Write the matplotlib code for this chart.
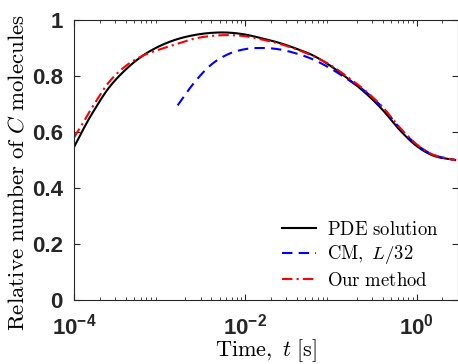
import numpy as np
import matplotlib.pyplot as plt

plt.rcParams['mathtext.fontset'] = 'custom'
plt.rcParams['mathtext.rm'] = 'Liberation Sans:bold'
plt.rcParams['mathtext.bf'] = 'Liberation Sans:bold'
plt.rcParams['mathtext.it'] = 'Liberation Sans:bold'

# log10 of time [s] and relative number of C molecules
log_t_pde = [-4.0, -3.9, -3.8, -3.6, -3.4, -3.2, -3.0, -2.8, -2.6, -2.4, -2.2, -2.0,
             -1.8, -1.6, -1.4, -1.2, -1.0, -0.8, -0.6, -0.4, -0.2, 0.0, 0.2, 0.45]
pde = [0.546, 0.605, 0.66, 0.755, 0.822, 0.872, 0.907, 0.931, 0.946, 0.954, 0.955, 0.948,
       0.934, 0.918, 0.897, 0.872, 0.835, 0.79, 0.74, 0.68, 0.608, 0.55, 0.515, 0.5]

log_t_cm = [-2.79, -2.6, -2.4, -2.2, -2.0, -1.8, -1.6, -1.4, -1.2, -1.0, -0.8, -0.6,
            -0.4, -0.2, 0.0, 0.2, 0.45]
cm = [0.695, 0.775, 0.84, 0.878, 0.896, 0.9, 0.895, 0.88, 0.858, 0.826, 0.787, 0.745,
      0.688, 0.615, 0.555, 0.518, 0.5]

log_t_our = [-4.0, -3.9, -3.8, -3.6, -3.4, -3.2, -3.0, -2.8, -2.6, -2.4, -2.2, -2.0,
             -1.8, -1.6, -1.4, -1.2, -1.0, -0.8, -0.6, -0.4, -0.2, 0.0, 0.2, 0.45]
our = [0.58, 0.63, 0.682, 0.775, 0.835, 0.872, 0.895, 0.914, 0.933, 0.943, 0.946, 0.942,
       0.93, 0.915, 0.895, 0.87, 0.838, 0.795, 0.748, 0.69, 0.617, 0.556, 0.518, 0.5]


def smooth(log_t, vals, n=300):
    # cubic Hermite curve through the points, evaluated on a fine log grid
    x = np.array(log_t)
    y = np.array(vals)
    xs = np.linspace(x[0], x[-1], n)
    out = []
    for i in range(len(x) - 1):
        x0, x1 = x[i], x[i + 1]
        y0, y1 = y[i], y[i + 1]
        m0 = (y[i + 1] - y[i - 1]) / (x[i + 1] - x[i - 1]) if i > 0 else (y1 - y0) / (x1 - x0)
        m1 = (y[i + 2] - y[i]) / (x[i + 2] - x[i]) if i < len(x) - 2 else (y1 - y0) / (x1 - x0)
        seg = xs[(xs >= x0) & ((xs < x1) if i < len(x) - 2 else (xs <= x1))]
        h = x1 - x0
        s = (seg - x0) / h
        h00 = 2 * s**3 - 3 * s**2 + 1
        h10 = s**3 - 2 * s**2 + s
        h01 = -2 * s**3 + 3 * s**2
        h11 = s**3 - s**2
        out.append(h00 * y0 + h10 * h * m0 + h01 * y1 + h11 * h * m1)
    return 10 ** xs, np.concatenate(out)


fig = plt.figure(figsize=(4.58, 3.64), dpi=100)
ax = fig.add_axes([74 / 458, 64 / 364, 383.5 / 458, 280 / 364])

t, v = smooth(log_t_pde, pde)
ax.plot(t, v, color='black', lw=1.5, label='PDE solution')
t, v = smooth(log_t_cm, cm)
ax.plot(t, v, color='blue', lw=1.5, ls=(0, (5, 3)), label='CM')
t, v = smooth(log_t_our, our)
ax.plot(t, v, color='red', lw=1.5, ls=(0, (5, 2, 1, 2)), label='Our method')

ax.set_xscale('log')
ax.set_xlim(1e-4, 3)
ax.set_ylim(0, 1)
ax.set_xticks([1e-4, 1e-2, 1e0])
ax.set_xticklabels([r'$10^{-4}$', r'$10^{-2}$', r'$10^{0}$'])
ax.set_yticks([0, 0.2, 0.4, 0.6, 0.8, 1])
ax.set_yticklabels(['0', '0.2', '0.4', '0.6', '0.8', '1'])
ax.tick_params(which='both', direction='in', top=True, right=True,
               colors='#262626', labelsize=16)
ax.tick_params(which='major', length=4, width=0.8)
ax.tick_params(which='minor', length=2.5, width=0.6)
ax.tick_params(axis='x', pad=10)
ax.tick_params(axis='y', pad=8)
for lab in ax.get_xticklabels() + ax.get_yticklabels():
    lab.set_fontfamily('Liberation Sans')
    lab.set_fontweight('bold')
for s in ax.spines.values():
    s.set_color('#262626')
    s.set_linewidth(0.8)

ax.set_xlabel(r'$\mathrm{Time,}\ t\ \mathrm{[s]}$', fontsize=16, math_fontfamily='cm', labelpad=-1.5)
ax.set_ylabel(r'$\mathrm{Relative\ number\ of}\ C\ \mathrm{molecules}$', fontsize=16.5,
              math_fontfamily='cm')
ax.yaxis.set_label_coords(-0.118, 0.455)

leg = ax.legend(loc='lower right', bbox_to_anchor=(0.984, -0.011), frameon=False,
                handlelength=1.85, handletextpad=0.55,
                prop={'size': 13.5, 'math_fontfamily': 'cm'},
                borderaxespad=0.3, labelspacing=0.25)
leg_labels = [r'$\mathrm{PDE\ solution}$', r'$\mathrm{CM,}\ L/32$', r'$\mathrm{Our\ method}$']
for txt, s in zip(leg.get_texts(), leg_labels):
    txt.set_text(s)

fig.savefig('out.png', dpi=100)
